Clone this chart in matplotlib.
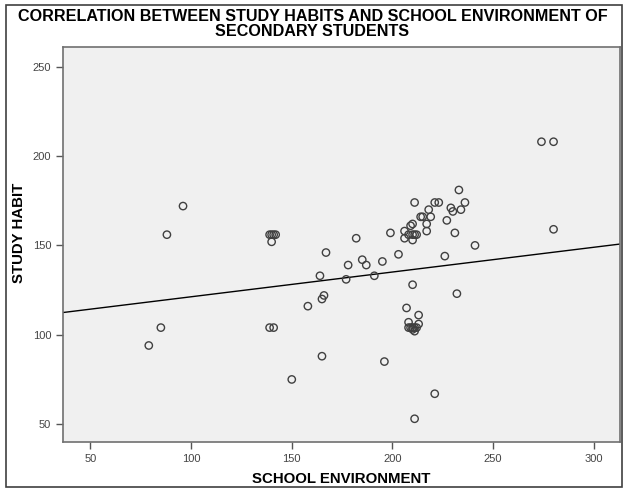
import matplotlib.pyplot as plt
import numpy as np
from matplotlib.patches import Rectangle

plt.rcParams['font.family'] = ['Liberation Sans', 'DejaVu Sans']

# school environment (x) and study habit (y) scores
school_env = [96, 88, 85, 79,
              139, 140, 141, 142, 140, 139, 141,
              167, 164, 166, 165, 158, 165, 150,
              182, 185, 187, 178, 177, 191, 195, 199, 203, 196,
              233, 211, 221, 223, 236, 229, 230, 234, 218, 214, 215, 219,
              227, 217, 217, 209, 210, 206, 206, 208, 210, 211, 212, 210,
              231, 241, 226, 280, 274, 280,
              210, 232, 207, 213, 208, 213, 209, 210, 211, 212, 210, 211, 208,
              211, 221]
study_habit = [172, 156, 104, 94,
               156, 156, 156, 156, 152, 104, 104,
               146, 133, 122, 120, 116, 88, 75,
               154, 142, 139, 139, 131, 133, 141, 157, 145, 85,
               181, 174, 174, 174, 174, 171, 169, 170, 170, 166, 166, 166,
               164, 162, 158, 161, 162, 158, 154, 156, 156, 156, 156, 153,
               157, 150, 144, 159, 208, 208,
               128, 123, 115, 111, 107, 106, 104, 104, 104, 104, 103, 102, 104,
               53, 67]

# linear fit line as drawn in the chart
fit_intercept = 107.4
fit_slope = 0.1385

x_ticks = [50, 100, 150, 200, 250, 300]
y_ticks = [50, 100, 150, 200, 250]

fig = plt.figure(figsize=(6.25, 4.92), dpi=100)
ax = fig.add_axes([63 / 625, 50 / 492, 557 / 625, 395 / 492])
ax.set_facecolor('#f0f0f0')

ax.scatter(school_env, study_habit, s=28, facecolors='none',
           edgecolors='#404040', linewidths=1.0, zorder=3)

ax.set_xlim(36.4, 313)
ax.set_ylim(40, 261)
xx = np.array(ax.get_xlim())
ax.plot(xx, fit_intercept + fit_slope * xx, color='black', lw=1.0, zorder=2)

ax.set_xticks(x_ticks)
ax.set_yticks(y_ticks)
ax.tick_params(direction='out', length=5, width=1, color='#555555',
               labelcolor='#444444', labelsize=8)
for sp in ax.spines.values():
    sp.set_color('#707070')
    sp.set_linewidth(1.2)

ax.set_xlabel('SCHOOL ENVIRONMENT', fontsize=10.8, fontweight='bold', labelpad=6)
ax.set_ylabel('STUDY HABIT', fontsize=10.8, fontweight='bold')
ax.yaxis.set_label_coords(-0.066, 0.53)

fig.text(0.5, 0.952, 'CORRELATION BETWEEN STUDY HABITS AND SCHOOL ENVIRONMENT OF\nSECONDARY STUDENTS',
         ha='center', va='center', fontsize=11.6, fontweight='bold', linespacing=1.0)

# outer frame round the whole chart
fig.patches.append(Rectangle((6 / 625, 5 / 492), 616 / 625, 482 / 492,
                             transform=fig.transFigure, fill=False,
                             edgecolor='#404040', lw=1.2))

fig.savefig('out.png', dpi=100)
